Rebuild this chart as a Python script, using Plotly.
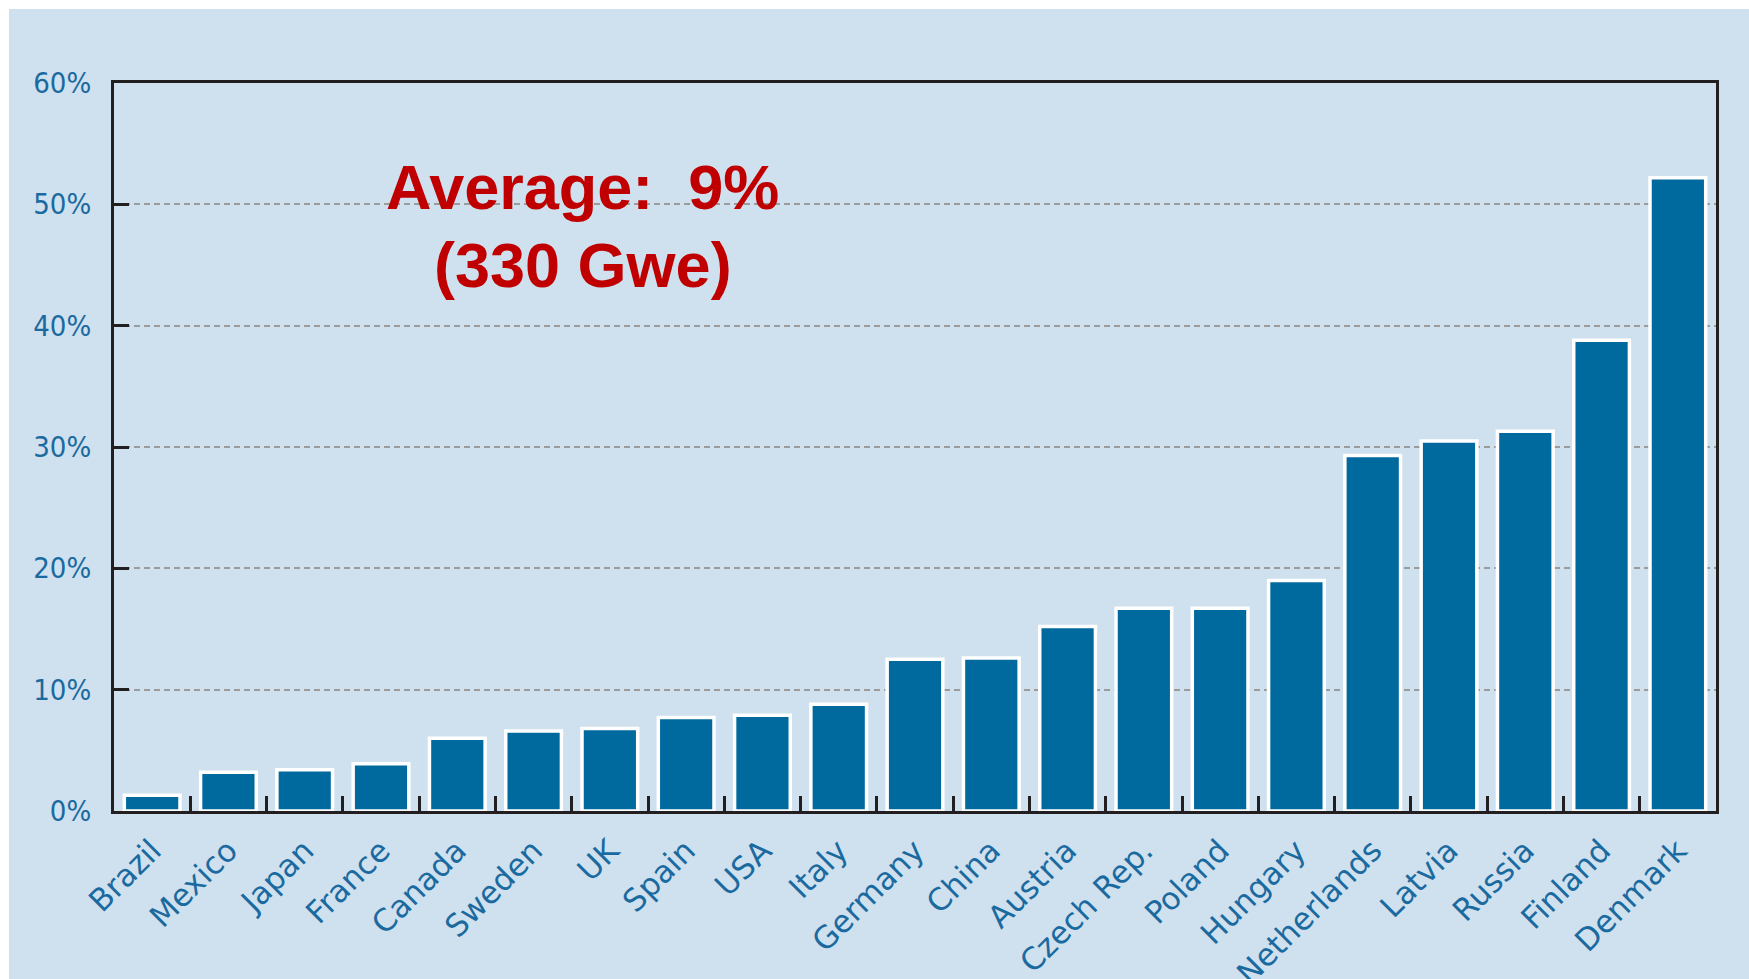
import plotly.graph_objects as go

countries = ["Brazil", "Mexico", "Japan", "France", "Canada", "Sweden", "UK", "Spain",
             "USA", "Italy", "Germany", "China", "Austria", "Czech Rep.", "Poland",
             "Hungary", "Netherlands", "Latvia", "Russia", "Finland", "Denmark"]
shares = [1.3, 3.2, 3.4, 3.9, 6.0, 6.6, 6.8, 7.7, 7.9, 8.8, 12.5, 12.6, 15.2, 16.7,
          16.7, 19.0, 29.3, 30.5, 31.3, 38.8, 52.2]
y_tick_vals = [0, 10, 20, 30, 40, 50, 60]
y_tick_text = ["0%", "10%", "20%", "30%", "40%", "50%", "60%"]
note_line1 = "Average:  9%"
note_line2 = "(330 Gwe)"

BG = "#cfe0ee"
BAR = "#00699e"
AX = "#231f20"
TXT = "#1a6aa0"
RED = "#c00000"

W, H = 1749, 979
ML, MR, MT, MB = 114, 33, 83, 168
PW = W - ML - MR
PH = H - MT - MB

fig = go.Figure(go.Bar(
    x=countries, y=shares,
    marker=dict(color=BAR, line=dict(color="white", width=3.5)),
    showlegend=False,
))

fig.update_layout(
    width=W, height=H, autosize=False,
    margin=dict(l=ML, r=MR, t=MT, b=MB, pad=0),
    paper_bgcolor="white",
    plot_bgcolor="rgba(0,0,0,0)",
    bargap=0.27,
    shapes=[dict(type="rect", xref="paper", yref="paper", layer="below",
                 x0=(9 - ML) / PW, x1=1.2, y0=-0.5, y1=(H - MB - 9) / PH,
                 fillcolor=BG, line=dict(width=0))],
    annotations=[
        dict(text="<b>" + note_line1 + "</b>", xref="paper", yref="paper",
             x=(582 - ML) / PW, y=(H - MB - 187) / PH, xanchor="center", yanchor="middle",
             showarrow=False, font=dict(family="Liberation Sans, Arial", size=63, color=RED)),
        dict(text="<b>" + note_line2 + "</b>", xref="paper", yref="paper",
             x=(583 - ML) / PW, y=(H - MB - 265) / PH, xanchor="center", yanchor="middle",
             showarrow=False, font=dict(family="Liberation Sans, Arial", size=63, color=RED)),
    ],
)

fig.update_xaxes(
    type="category", range=[-0.5, len(countries) - 0.5], automargin=False,
    showline=True, linewidth=3, linecolor=AX, mirror=True,
    ticks="inside", tickson="boundaries", ticklen=15, tickwidth=3, tickcolor=AX,
    tickangle=-45, tickfont=dict(family="DejaVu Sans", size=31, color=TXT),
    ticklabelstandoff=6,
    showgrid=False, zeroline=False,
)
fig.update_yaxes(
    range=[0, 60], tickvals=y_tick_vals, ticktext=y_tick_text, automargin=False,
    showline=True, linewidth=3, linecolor=AX, mirror=True,
    ticks="inside", ticklen=15, tickwidth=3, tickcolor=AX,
    tickfont=dict(family="DejaVu Sans Condensed, DejaVu Sans", size=29, color=TXT),
    ticklabelstandoff=14,
    showgrid=True, gridcolor="#9b9b9b", gridwidth=1.5, griddash="6px,4px",
    zeroline=False,
)

fig.write_html("out.html")
